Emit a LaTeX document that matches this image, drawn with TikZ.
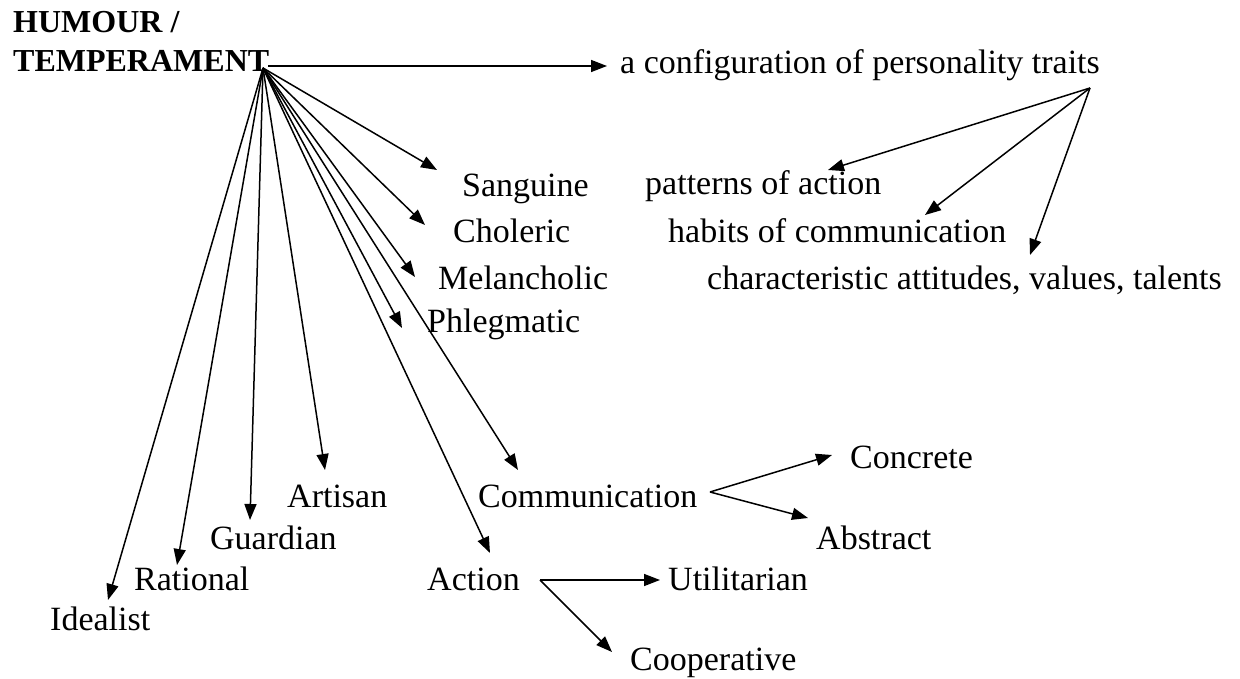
\documentclass[tikz,border=0pt]{standalone}
\usepackage{fontspec}
\setmainfont{Liberation Serif}
\usetikzlibrary{arrows.meta}
\begin{document}
\begin{tikzpicture}[x=1pt,y=-1pt,
  lbl/.style={anchor=base west,inner sep=0pt,font=\fontsize{34}{38}\selectfont},
  boldlbl/.style={anchor=base west,inner sep=0pt,font=\fontsize{32}{36}\selectfont\bfseries},
  arr/.style={line width=1.5pt,-{Triangle[length=16pt,width=12pt]}}]
\useasboundingbox (0,0) rectangle (1240,679);
\fill[white] (0,0) rectangle (1240,679);
% texts
\node[boldlbl] (hum) at (13,33) {HUMOUR /};
\node[boldlbl] (temp) at (13,72) {TEMPERAMENT};
\node[lbl] (conf) at (620,74) {a configuration of personality traits};
\node[lbl] (san) at (462,197) {Sanguine};
\node[lbl] (cho) at (453,243) {Choleric};
\node[lbl] (mel) at (438,290) {Melancholic};
\node[lbl] (phl) at (427,332) {Phlegmatic};
\node[lbl] (pat) at (645,195) {patterns of action};
\node[lbl] (hab) at (668,243) {habits of communication};
\node[lbl] (cha) at (707,290) {characteristic attitudes, values, talents};
\node[lbl] (art) at (287,507) {Artisan};
\node[lbl] (com) at (478,507) {Communication};
\node[lbl] (gua) at (210,549) {Guardian};
\node[lbl] (con) at (850,468) {Concrete};
\node[lbl] (abs) at (816,549) {Abstract};
\node[lbl] (rat) at (134,590) {Rational};
\node[lbl] (act) at (427,590) {Action};
\node[lbl] (uti) at (668,590) {Utilitarian};
\node[lbl] (ide) at (50,630) {Idealist};
\node[lbl] (coo) at (630,670) {Cooperative};
% hubs
\coordinate (h0) at (263,68);
\coordinate (h0r) at (268,66);
\coordinate (h1) at (1090,88);
\coordinate (h2) at (710,492);
\coordinate (h3) at (540,580);
% tips
\coordinate (tConf) at (607,66);
\coordinate (tSan) at (437,170);
\coordinate (tCho) at (425,225);
\coordinate (tMel) at (415,277);
\coordinate (tPhl) at (402,328);
\coordinate (tCom) at (518,470);
\coordinate (tAct) at (490,553);
\coordinate (tArt) at (325,470);
\coordinate (tGua) at (250,520);
\coordinate (tRat) at (177,565);
\coordinate (tIde) at (108,600);
\coordinate (tPat) at (828,170);
\coordinate (tHab) at (925,215);
\coordinate (tCha) at (1030,255);
\coordinate (tCon) at (832,455);
\coordinate (tAbs) at (808,518);
\coordinate (tUti) at (660,580);
\coordinate (tCoo) at (612,652);
% arrows
\draw[arr] (h0r) -- (tConf);
\foreach \t in {tSan,tCho,tMel,tPhl,tCom,tAct,tArt,tGua,tRat,tIde}
  \draw[arr] (h0) -- (\t);
\foreach \t in {tPat,tHab,tCha}
  \draw[arr] (h1) -- (\t);
\draw[arr] (h2) -- (tCon);
\draw[arr] (h2) -- (tAbs);
\draw[arr] (h3) -- (tUti);
\draw[arr] (h3) -- (tCoo);
\end{tikzpicture}
\end{document}
